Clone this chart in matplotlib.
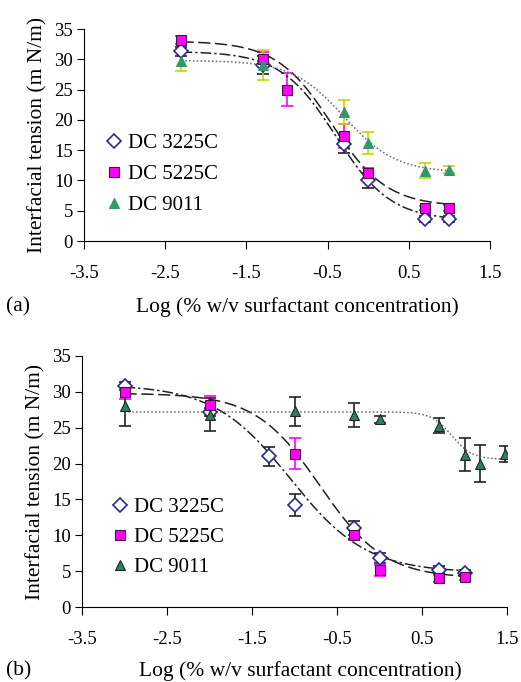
import numpy as np
import matplotlib
matplotlib.use("Agg")
import matplotlib.pyplot as plt
from matplotlib.lines import Line2D

plt.rcParams['font.family'] = ['Liberation Serif', 'DejaVu Serif']

# ---- panel (a) data ----
labels = ['DC 3225C', 'DC 5225C', 'DC 9011']
xa_3225 = [-2.3, -1.3, -0.3, 0.0, 0.7, 1.0]
ya_3225 = [31.3, 29.0, 16.0, 10.0, 3.6, 3.6]
ea_3225 = [0.8, 1.5, 1.5, 1.3, 0.5, 0.5]
xa_5225 = [-2.3, -1.3, -1.0, -0.3, 0.0, 0.7, 1.0]
ya_5225 = [33.2, 30.0, 25.0, 17.3, 11.2, 5.5, 5.5]
ea_5225 = [0.7, 1.2, 2.7, 2.0, 0.8, 0.3, 0.5]
xa_9011 = [-2.3, -1.3, -0.3, 0.0, 0.7, 1.0]
ya_9011 = [29.7, 29.0, 21.3, 16.2, 11.6, 11.8]
ea_9011 = [1.7, 2.5, 2.0, 1.8, 1.2, 0.5]

# ---- panel (b) data ----
xb_3225 = [-3.0, -2.0, -1.3, -1.0, -0.3, 0.0, 0.7, 1.0]
yb_3225 = [30.8, 27.2, 21.0, 14.2, 11.0, 6.8, 5.2, 4.7]
eb_3225 = [0.6, 0.6, 1.3, 1.5, 1.0, 0.7, 0.5, 0.4]
xb_5225 = [-3.0, -2.0, -1.0, -0.3, 0.0, 0.7, 1.0]
yb_5225 = [30.0, 28.2, 21.4, 10.1, 5.1, 4.0, 4.2]
eb_5225 = [1.0, 1.2, 2.2, 0.7, 0.8, 0.5, 0.4]
xb_9011 = [-3.0, -2.0, -1.0, -0.3, 0.0, 0.7, 1.0, 1.18, 1.48]
yb_9011 = [28.0, 26.8, 27.3, 26.8, 26.2, 25.3, 21.2, 20.0, 21.3]
eb_9011 = [2.7, 2.3, 2.0, 1.7, 0.5, 1.0, 2.3, 2.6, 1.1]

# sigmoid fit parameters: top, bottom, x50, width, x-range
fit_a = [(31.3, 3.4, -0.40, 0.34, -2.3, 1.0),
         (33.0, 5.7, -0.45, 0.34, -2.3, 1.0),
         (29.8, 11.3, -0.30, 0.32, -2.3, 1.0)]
fit_b = [(31.0, 4.8, -1.05, 0.45, -3.0, 1.0),
         (29.8, 4.0, -0.70, 0.38, -3.0, 1.0),
         (27.2, 20.6, 0.85, 0.12, -3.0, 1.48)]

xticks = [-3.5, -2.5, -1.5, -0.5, 0.5, 1.5]
yticks = [0, 5, 10, 15, 20, 25, 30, 35]

mk_face = ['white', '#ff00ff', '#2e9a6a']
mk_edge = ['#2a2a8c', '#4a1040', '#2e9a6a']
markers = ['D', 's', '^']
msizes = [7, 6.5, 7.5]
styles = [(0, (7, 2, 1.5, 2)), (0, (8, 3)), (0, (1, 1.5))]
curve_col = ['#222222', '#222222', '#666666']

fig = plt.figure(figsize=(5.21, 6.82), dpi=100)
ax_a = fig.add_axes([84/521, 1-241/682, 406/521, 212/682])
ax_b = fig.add_axes([82/521, 1-607/682, 425/521, 251/682])

def sigmoid(p):
    top, bot, x0, w, x1, x2 = p
    xs = np.linspace(x1, x2, 200)
    return xs, bot + (top - bot) / (1 + np.exp((xs - x0) / w))

def draw(ax, series, fits, ecols, face9011, edge9011):
    for i, (x, y, e) in enumerate(series):
        ax.errorbar(x, y, yerr=e, fmt='none', ecolor=ecols[i], elinewidth=1.2,
                    capsize=4.5, capthick=1.2, zorder=2)
    for i, p in enumerate(fits):
        xs, ys = sigmoid(p)
        ax.plot(xs, ys, color=curve_col[i], lw=1.1, linestyle=styles[i], zorder=3)
    for i, (x, y, e) in enumerate(series):
        fc = mk_face[i] if i < 2 else face9011
        ec = mk_edge[i] if i < 2 else edge9011
        ax.plot(x, y, linestyle='none', marker=markers[i], ms=msizes[i],
                mfc=fc, mec=ec, mew=1.2 if i == 0 else 0.8, zorder=4)
    ax.set_xlim(-3.5, 1.5)
    ax.set_ylim(0, 35)
    ax.set_xticks(xticks)
    ax.set_xticklabels(['%g' % t for t in xticks])
    ax.set_yticks(yticks)
    ax.spines['top'].set_visible(False)
    ax.spines['right'].set_visible(False)
    ax.tick_params(axis='x', direction='out', length=6, pad=11, labelsize=13.5)
    ax.tick_params(axis='y', direction='out', length=5, pad=3, labelsize=13.5)
    ax.set_ylabel('Interfacial tension (m N/m)', fontsize=15.5, labelpad=5)
    handles = []
    for i in range(3):
        fc = mk_face[i] if i < 2 else face9011
        ec = mk_edge[i] if i < 2 else edge9011
        handles.append(Line2D([], [], linestyle='none', marker=markers[i],
                              ms=msizes[i], mfc=fc, mec=ec, mew=1.2 if i == 0 else 0.8))
    return handles

h_a = draw(ax_a, [(xa_3225, ya_3225, ea_3225), (xa_5225, ya_5225, ea_5225),
                  (xa_9011, ya_9011, ea_9011)],
           fit_a, ['#222222', '#ff00ff', '#c8d400'], '#2e9a6a', '#2e9a6a')
h_b = draw(ax_b, [(xb_3225, yb_3225, eb_3225), (xb_5225, yb_5225, eb_5225),
                  (xb_9011, yb_9011, eb_9011)],
           fit_b, ['#222222', '#ff00ff', '#222222'], '#2f7f5f', '#1a2a22')

ax_a.legend(h_a, labels, loc='upper left', bbox_to_anchor=(0.012, 0.565),
            frameon=False, fontsize=15, handletextpad=0.1, handlelength=1.2,
            labelspacing=0.55, borderaxespad=0.2)
ax_b.legend(h_b, labels, loc='upper left', bbox_to_anchor=(0.03, 0.485),
            frameon=False, fontsize=15, handletextpad=0.1, handlelength=1.2,
            labelspacing=0.5, borderaxespad=0.2)

fig.text(297/521, 1-307/682, 'Log (% w/v surfactant concentration)', fontsize=15.5,
         ha='center', va='center')
fig.text(6/521, 1-307/682, '(a)', fontsize=15.5, ha='left', va='center')
fig.text(300/521, 1-671/682, 'Log (% w/v surfactant concentration)', fontsize=15.5,
         ha='center', va='center')
fig.text(6/521, 1-671/682, '(b)', fontsize=15.5, ha='left', va='center')

fig.savefig('out.png', dpi=100)
